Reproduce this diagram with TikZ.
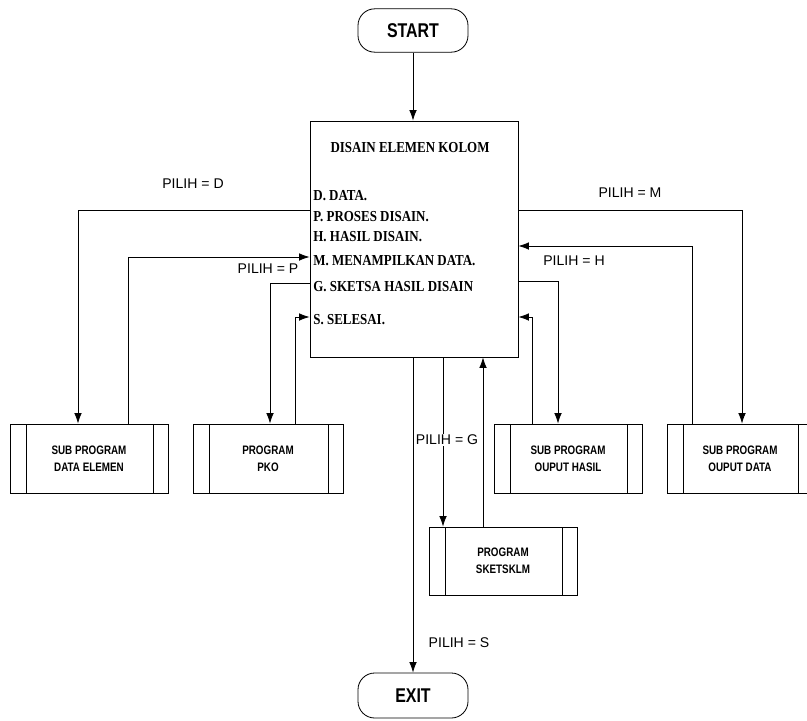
\documentclass[tikz,border=0pt]{standalone}
\usepackage{fontspec}
\setmainfont{Liberation Serif}
\newfontfamily\labelsans{Liberation Sans}
\newfontfamily\narrowbold[FakeStretch=0.8]{Liberation Sans Bold}
\newfontfamily\serifbold[FakeStretch=0.85]{Liberation Serif Bold}
\newcommand{\termfont}{\narrowbold\fontsize{17}{20}\selectfont}
\newcommand{\boxfont}{\narrowbold\fontsize{10.5}{14.5}\selectfont}
\newcommand{\menufont}{\serifbold\fontsize{13}{15}\selectfont}
\newcommand{\pilihfont}{\labelsans\fontsize{12}{14}\selectfont}
\usetikzlibrary{arrows.meta}

\begin{document}
\begin{tikzpicture}[x=0.3mm, y=-0.3mm, line width=0.7pt,
  >={Latex[length=9pt,width=6.5pt]},
  terminal/.style={draw, rounded corners=5mm, minimum width=33mm, minimum height=13mm, font=\termfont},
  subprog/.style={draw, minimum height=20.7mm, align=center, font=\boxfont,
    path picture={\draw ([xshift=4.8mm]path picture bounding box.north west) -- ([xshift=4.8mm]path picture bounding box.south west)
      ([xshift=-4.5mm]path picture bounding box.north east) -- ([xshift=-4.5mm]path picture bounding box.south east);}},
  item/.style={anchor=west, inner sep=0pt, font=\menufont},
  pilih/.style={font=\pilihfont, inner sep=0.5pt}]
\useasboundingbox (0,0) rectangle (807,720);

% Terminal
\node[terminal] (start) at (413,30.5) {START};
\node[terminal, minimum height=13.5mm] (exit) at (413,695.5) {EXIT};

% Menu utama
\node[draw, minimum width=62.4mm, minimum height=70.8mm] (menu) at (414,239) {};
\node[font=\menufont] (judul) at (410,148) {DISAIN ELEMEN KOLOM};
\foreach \y/\nm/\txt in {196/itD/D. DATA., 217/itP/P. PROSES DISAIN., 237/itH/H. HASIL DISAIN.,
    261/itM/M. MENAMPILKAN DATA., 287/itG/G. SKETSA HASIL DISAIN, 320/itS/S. SELESAI.}
  \node[item] (\nm) at (313,\y) {\txt};

% Sub program
\node[subprog, minimum width=47.4mm] (dataelemen) at (89,458.5) {SUB PROGRAM\\DATA ELEMEN};
\node[subprog, minimum width=45mm] (pko) at (268,458.5) {PROGRAM\\PKO};
\node[subprog, minimum width=44.4mm] (ouputhasil) at (568,458.5) {SUB PROGRAM\\OUPUT HASIL};
\node[subprog, minimum width=43.8mm] (ouputdata) at (740,458.5) {SUB PROGRAM\\OUPUT DATA};
\node[subprog, minimum width=44.4mm, minimum height=20.4mm] (sketsklm) at (503,561) {PROGRAM\\SKETSKLM};

% Titik bantu
\foreach \nm/\y in {lvD/210, lvDE/257, lvP/283, lvPK/317, lvM/210, lvOD/246, lvH/281, lvOH/317}
  \coordinate (\nm) at (0,\y);
\foreach \nm/\x in {clD/78, clDE/128, clP/270, clPK/295, clM/742, clOD/692, clH/558, clOH/532, clG/443, clSK/483}
  \coordinate (\nm) at (\x,0);

% Alur
\draw[->] (start) -- (start |- menu.north);
\draw[->] (menu.west |- lvD) -| (dataelemen.north -| clD);
\draw[->] (dataelemen.north -| clDE) |- (menu.west |- lvDE);
\draw[->] (menu.west |- lvP) -| (pko.north -| clP);
\draw[->] (pko.north -| clPK) |- (menu.west |- lvPK);
\draw[->] (menu.east |- lvM) -| (ouputdata.north -| clM);
\draw[->] (ouputdata.north -| clOD) |- (menu.east |- lvOD);
\draw[->] (menu.east |- lvH) -| (ouputhasil.north -| clH);
\draw[->] (ouputhasil.north -| clOH) |- (menu.east |- lvOH);
\draw[->] (menu.south -| clG) -- (sketsklm.north -| clG);
\draw[->] (sketsklm.north -| clSK) -- (menu.south -| clSK);
\draw[->] (menu.south -| exit) -- (exit);

% Label pilihan
\node[pilih] (pD) at (193,184) {PILIH = D};
\node[pilih] (pP) at (268,269) {PILIH = P};
\node[pilih] (pM) at (630,193) {PILIH = M};
\node[pilih] (pH) at (574,261) {PILIH = H};
\node[pilih, fill=white] (pG) at (447,440) {PILIH = G};
\node[pilih] (pS) at (459,643) {PILIH = S};
\end{tikzpicture}
\end{document}
